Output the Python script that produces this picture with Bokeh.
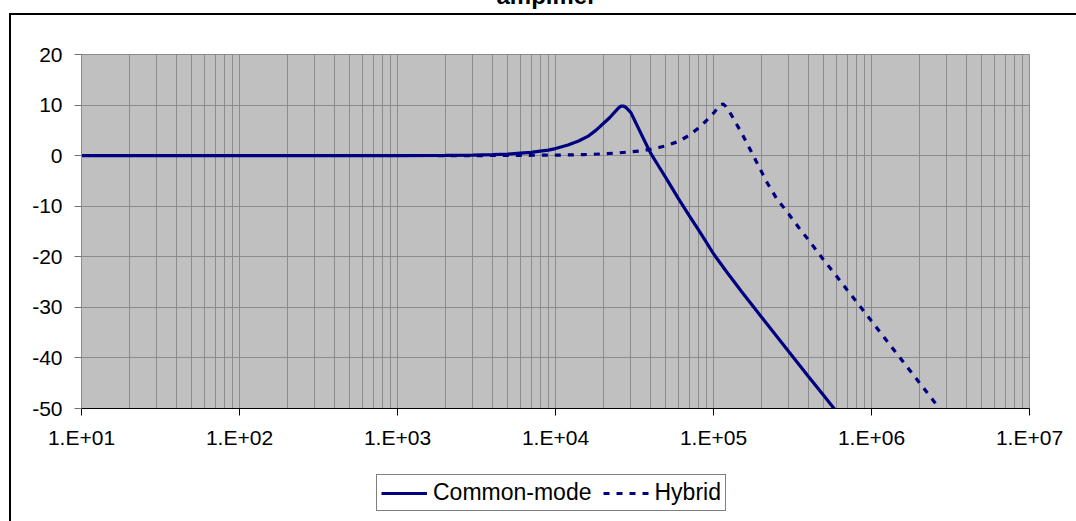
from bokeh.plotting import figure
from bokeh.layouts import column
from bokeh.models import Range1d, FixedTicker, Legend, LegendItem, Label, InlineStyleSheet
from bokeh.embed import file_html
from bokeh.resources import INLINE

# ---- data ----
freq_cm = [10, 100, 1000, 2000, 3000, 4000, 5000, 6000, 7000, 8000, 9000, 10000,
           12000, 14000, 16000, 18000, 20000, 22000, 24000, 25000, 26000, 27000,
           28000, 30000, 32000, 34000, 36000, 38000, 40000, 45000, 50000, 60000,
           70000, 80000, 90000, 100000, 120000, 150000, 200000, 300000, 400000,
           500000, 600000]
db_cm = [0, 0, 0, 0.05, 0.1, 0.2, 0.3, 0.5, 0.65, 0.9, 1.1, 1.4,
         2.1, 2.9, 3.8, 5.0, 6.3, 7.5, 8.8, 9.4, 9.8, 9.8,
         9.5, 8.5, 6.7, 5.0, 3.4, 1.9, 0.5, -2.1, -4.4, -8.5,
         -11.8, -14.6, -17.1, -19.4, -22.8, -26.8, -31.8, -38.8, -43.7,
         -47.5, -50.6]

freq_hy = [1800, 3000, 5000, 10000, 15000, 20000, 25000, 30000, 35000, 40000,
           45000, 50000, 60000, 70000, 80000, 90000, 100000, 110000, 115000, 120000,
           130000, 140000, 150000, 160000, 170000, 180000, 200000, 220000, 250000,
           300000, 350000, 400000, 450000, 500000, 600000, 700000, 800000, 1000000,
           1200000, 1500000, 2000000, 2500000, 3000000]
db_hy = [0, 0, 0.05, 0.1, 0.2, 0.35, 0.55, 0.75, 0.95, 1.25,
         1.6, 1.95, 2.8, 4.0, 5.4, 6.9, 8.4, 10.0, 10.2, 9.7,
         8.0, 6.2, 4.6, 2.9, 1.3, -0.2, -3.0, -5.5, -8.4,
         -11.6, -14.4, -16.7, -18.8, -20.7, -23.8, -26.5, -28.8, -32.7,
         -35.9, -39.8, -44.8, -48.7, -51.8]

series_names = ["Common-mode", "Hybrid"]
title_text = "amplifier"

x_ticks = [10, 100, 1000, 10000, 100000, 1000000, 10000000]
x_tick_labels = ["1.E+01", "1.E+02", "1.E+03", "1.E+04", "1.E+05", "1.E+06", "1.E+07"]
x_minor = [m * d for d in [10, 100, 1000, 10000, 100000, 1000000] for m in range(2, 10)]
y_ticks = [20, 10, 0, -10, -20, -30, -40, -50]
y_tick_labels = ["20", "10", "0", "-10", "-20", "-30", "-40", "-50"]

NAVY = "#000080"
GRID = "#8c8c8c"
FONT = "Liberation Sans"
DASH = "6 7"
LW = 3.2

W, H_TOP, H_LEG = 1076, 460, 61

# ---------------- main chart ----------------
p = figure(width=W, height=H_TOP, x_axis_type="log",
           x_range=Range1d(10, 1e7), y_range=Range1d(-50, 20),
           output_backend="svg", toolbar_location=None,
           min_border_left=81, min_border_right=47,
           min_border_top=54, min_border_bottom=52)

p.background_fill_color = "#c0c0c0"
p.border_fill_color = "white"
p.outline_line_color = GRID
p.outline_line_width = 1

xt = FixedTicker(ticks=x_ticks, minor_ticks=x_minor)
yt = FixedTicker(ticks=y_ticks, minor_ticks=[])
p.xaxis.ticker = xt
p.yaxis.ticker = yt
p.xgrid.ticker = xt
p.ygrid.ticker = yt
p.xgrid.grid_line_color = GRID
p.xgrid.minor_grid_line_color = GRID
p.ygrid.grid_line_color = GRID

p.xaxis.major_label_overrides = {float(v): s for v, s in zip(x_ticks, x_tick_labels)}
p.yaxis.major_label_overrides = {v: s for v, s in zip(y_ticks, y_tick_labels)}

for ax in (p.xaxis[0], p.yaxis[0]):
    ax.major_label_text_font = FONT
    ax.major_label_text_font_size = "21px"
    ax.major_label_text_color = "black"
    ax.minor_tick_line_color = None
    ax.major_tick_in = 0
    ax.major_tick_out = 7

p.xaxis.axis_line_color = "black"
p.xaxis.major_tick_line_color = "black"
p.xaxis.major_label_standoff = 10
p.yaxis.axis_line_color = GRID
p.yaxis.major_tick_line_color = "#707070"
p.yaxis.major_label_standoff = 12

p.line(freq_cm, db_cm, line_color=NAVY, line_width=LW)
p.line(freq_hy, db_hy, line_color=NAVY, line_width=LW, line_dash=DASH)

title = Label(x=546, y=-5, x_units="canvas", y_units="canvas", text=title_text,
              text_font=FONT, text_font_style="bold", text_font_size="24px",
              text_align="center", text_baseline="alphabetic", text_color="black")
p.add_layout(title, "above")

# outer chart-area border: top and left sides (the others lie outside the window)
p.stylesheets = [InlineStyleSheet(css="""
:host::after { content: ""; position: absolute; left: 9px; top: 13px; right: 0; bottom: 0;
  border-left: 2px solid black; border-top: 2px solid black; pointer-events: none; }
""")]

# ---------------- legend strip ----------------
# same series drawn again in a strip whose ranges keep them out of view;
# they only serve as the legend's glyph sources
q = figure(width=W, height=H_LEG, x_range=Range1d(0, 1), y_range=Range1d(0, 1),
           output_backend="svg", toolbar_location=None,
           x_axis_location=None, y_axis_location=None, min_border=0)
q.grid.visible = False
q.outline_line_color = None
q.background_fill_color = "white"
q.border_fill_color = "white"
k1 = q.line(freq_cm, db_cm, line_color=NAVY, line_width=LW)
k2 = q.line(freq_hy, db_hy, line_color=NAVY, line_width=LW, line_dash=DASH)

legend = Legend(items=[LegendItem(label=series_names[0], renderers=[k1]),
                       LegendItem(label=series_names[1], renderers=[k2])],
                location=(295, 10), orientation="horizontal")
legend.border_line_color = "black"
legend.border_line_width = 1
legend.background_fill_color = "white"
legend.background_fill_alpha = 1
legend.label_text_font = FONT
legend.label_text_font_size = "23px"
legend.label_text_color = "black"
legend.glyph_width = 46
legend.glyph_height = 22
legend.label_height = 22
legend.label_standoff = 6
legend.spacing = 11
legend.padding = 4
legend.margin = 0
q.add_layout(legend)

q.stylesheets = [InlineStyleSheet(css="""
:host::after { content: ""; position: absolute; left: 9px; top: 0; bottom: 0; width: 0;
  border-left: 2px solid black; pointer-events: none; }
""")]

layout = column(p, q, spacing=0)
open("out.html", "w").write(file_html(layout, INLINE))
